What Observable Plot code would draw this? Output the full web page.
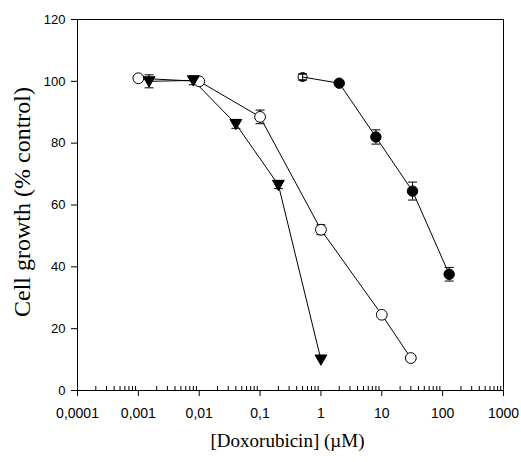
<!DOCTYPE html>
<html>
<head>
<meta charset="utf-8">
<script src="https://cdn.jsdelivr.net/npm/d3@7"></script>
<script src="https://cdn.jsdelivr.net/npm/@observablehq/plot@0.6"></script>
<style>
  html, body { margin: 0; padding: 0; background: #fff; }
  #chart svg { display: block; }
</style>
</head>
<body>
<div id="chart"></div>
<script>
// ---- data ----
// Series 1: open circles
const openConc   = [0.001, 0.01, 0.1, 1, 10, 30];
const openGrowth = [101, 100, 88.5, 52, 24.5, 10.5];
const openErr    = [0.8, 0.6, 2.2, 1.6, 0, 0];

// Series 2: filled down-triangles
const triConc   = [0.0015, 0.008, 0.04, 0.2, 1];
const triGrowth = [100, 100.3, 86.2, 66.5, 10];
const triErr    = [2.1, 1.4, 1.4, 1.2, 0];

// Series 3: filled circles (first point drawn open)
const filledConc   = [0.5, 2, 8, 32, 128];
const filledGrowth = [101.4, 99.4, 82, 64.5, 37.6];
const filledErr    = [1.0, 0.5, 2.3, 2.9, 2.2];
const filledOpen   = [true, false, false, false, false];

// Axis ticks and labels
const xTicks = [0.0001, 0.001, 0.01, 0.1, 1, 10, 100, 1000];
const xTickLabels = ["0,0001", "0,001", "0,01", "0,1", "1", "10", "100", "1000"];
const yTicks = [0, 20, 40, 60, 80, 100, 120];
const xTitle = "[Doxorubicin] (\u00B5M)";
const yTitle = "Cell growth (% control)";

// ---- build tables ----
const openData = openConc.map((x, i) => ({x, y: openGrowth[i], e: openErr[i]}));
const triData = triConc.map((x, i) => ({x, y: triGrowth[i], e: triErr[i]}));
const filledData = filledConc.map((x, i) => ({x, y: filledGrowth[i], e: filledErr[i], open: filledOpen[i]}));
const allErr = [...openData, ...triData, ...filledData].filter(d => d.e > 0);

// minor ticks 2..9 x 10^k
const minorTicks = [];
for (let k = 0; k < xTicks.length - 1; k++) {
  for (let m = 2; m <= 9; m++) minorTicks.push(xTicks[k] * m);
}

// custom symbols
const downTriangle = {
  draw(ctx, size) {
    const r = Math.sqrt(size / Math.PI);
    ctx.moveTo(-1.1 * r, -0.85 * r);
    ctx.lineTo(1.1 * r, -0.85 * r);
    ctx.lineTo(0, 1.05 * r);
    ctx.closePath();
  }
};
const capSymbol = {
  draw(ctx, size) {
    const r = Math.sqrt(size / Math.PI);
    ctx.moveTo(-r, 0);
    ctx.lineTo(r, 0);
  }
};

const sans = "Liberation Sans, Arial, sans-serif";
const serif = "Liberation Serif, Times New Roman, serif";

const chart = Plot.plot({
  width: 521,
  height: 462,
  marginLeft: 77,
  marginRight: 18,
  marginTop: 19,
  marginBottom: 72,
  style: {background: "#fff", color: "#000", fontFamily: sans},
  x: {type: "log", domain: [0.0001, 1000]},
  y: {domain: [0, 120]},
  marks: [
    Plot.frame({stroke: "#000", strokeWidth: 1}),
    // major x ticks + labels
    Plot.axisX({
      ticks: xTicks, tickSize: 6, tickPadding: 12, fontSize: 14,
      tickFormat: (d) => xTickLabels[xTicks.indexOf(d)],
      stroke: "#000", fill: "#000", label: null
    }),
    // minor x ticks (inward)
    Plot.axisX({
      ticks: minorTicks, tickSize: 4, dy: -4, text: null, stroke: "#000", label: null
    }),
    Plot.axisY({
      ticks: yTicks, tickSize: 6, tickPadding: 6, fontSize: 13,
      stroke: "#000", fill: "#000", label: null
    }),
    // axis titles
    Plot.text([xTitle], {
      text: d => d, frameAnchor: "bottom", dy: 56, dx: -3, textAnchor: "middle",
      fontFamily: serif, fontSize: 19, fill: "#000"
    }),
    Plot.text([yTitle], {
      text: d => d, frameAnchor: "left", dx: -55, dy: -3, rotate: -90, textAnchor: "middle",
      fontFamily: serif, fontSize: 24, fill: "#000"
    }),
    // connecting lines
    Plot.line(openData, {x: "x", y: "y", stroke: "#000", strokeWidth: 1}),
    Plot.line(triData, {x: "x", y: "y", stroke: "#000", strokeWidth: 1}),
    Plot.line(filledData, {x: "x", y: "y", stroke: "#000", strokeWidth: 1}),
    // error bars
    Plot.ruleX(allErr, {x: "x", y1: d => d.y - d.e, y2: d => d.y + d.e, stroke: "#000", strokeWidth: 1}),
    Plot.dot(allErr, {x: "x", y: d => d.y - d.e, symbol: capSymbol, r: 4.5, stroke: "#000", fill: "none", strokeWidth: 1}),
    Plot.dot(allErr, {x: "x", y: d => d.y + d.e, symbol: capSymbol, r: 4.5, stroke: "#000", fill: "none", strokeWidth: 1}),
    // markers
    Plot.dot(openData, {x: "x", y: "y", r: 5.4, symbol: "circle", fill: "#fff", stroke: "#000", strokeWidth: 1}),
    Plot.dot(triData, {x: "x", y: "y", r: 5.4, symbol: downTriangle, fill: "#000", stroke: "#000", strokeWidth: 1}),
    Plot.dot(filledData.filter(d => !d.open), {x: "x", y: "y", r: 5.2, symbol: "circle", fill: "#000", stroke: "#000", strokeWidth: 1}),
    Plot.dot(filledData.filter(d => d.open), {x: "x", y: "y", r: 4.5, symbol: "circle", fill: "none", stroke: "#000", strokeWidth: 1}),
    // caps visible inside the small open circle
    Plot.dot(filledData.filter(d => d.open), {x: "x", y: d => d.y - d.e, symbol: capSymbol, r: 3, stroke: "#000", fill: "none"}),
    Plot.dot(filledData.filter(d => d.open), {x: "x", y: d => d.y + d.e, symbol: capSymbol, r: 3, stroke: "#000", fill: "none"})
  ]
});
document.getElementById("chart").appendChild(chart);
</script>
</body>
</html>
